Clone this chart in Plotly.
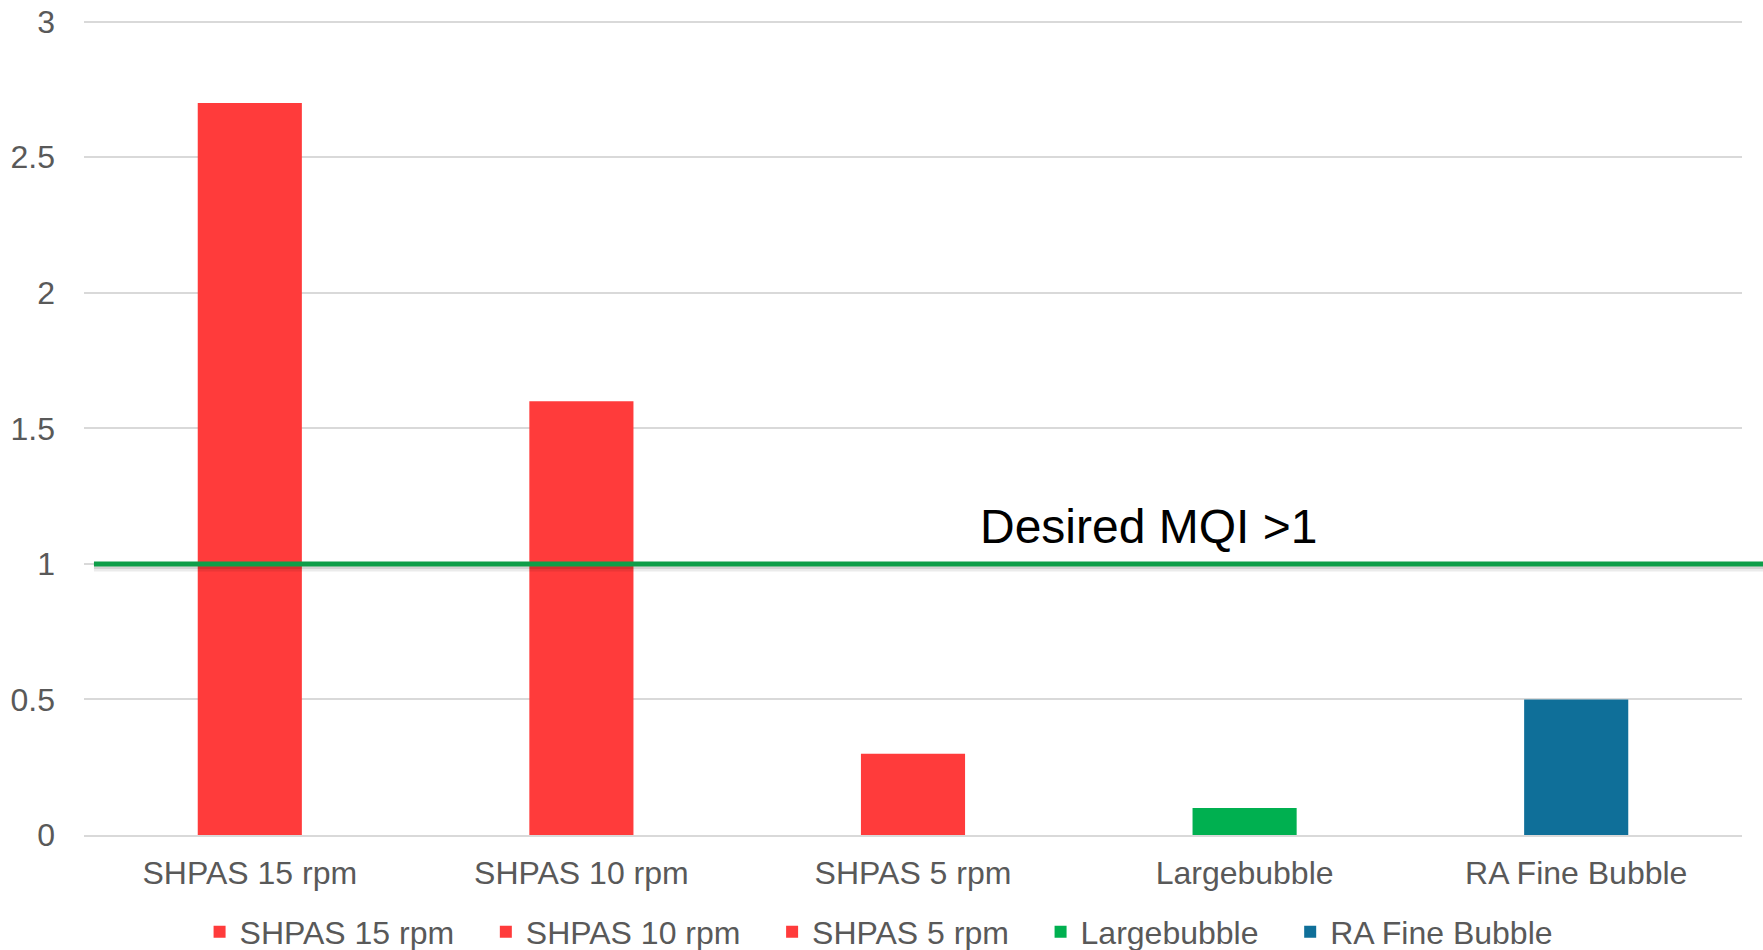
import plotly.graph_objects as go

# Category names, MQI values and bar colours
categories = ["SHPAS 15 rpm", "SHPAS 10 rpm", "SHPAS 5 rpm", "Largebubble", "RA Fine Bubble"]
mqi_values = [2.7, 1.6, 0.3, 0.1, 0.5]
bar_colors = ["#FF3B3B", "#FF3B3B", "#FF3B3B", "#00B050", "#0F6F99"]
y_ticks = [0, 0.5, 1, 1.5, 2, 2.5, 3]
threshold = 1
threshold_label = "Desired MQI >1"

FONT = "Arial, Liberation Sans, sans-serif"
TEXT_GREY = "#595959"
LEGEND_PAD = "\u00a0" * 3  # extra room after each legend entry

fig = go.Figure()
for name, val, col in zip(categories, mqi_values, bar_colors):
    fig.add_trace(go.Bar(
        x=[name], y=[val], name=name + LEGEND_PAD,
        marker=dict(color=col, line=dict(width=0)),
        width=0.314,
    ))

# soft shadow under the threshold line
fig.add_shape(type="line", xref="paper", yref="y", ysizemode="pixel",
              yanchor=threshold, y0=-2, y1=-2, x0=0.006, x1=1.02,
              line=dict(color="rgba(0,0,0,0.10)", width=6))
fig.add_shape(type="line", xref="paper", yref="y", ysizemode="pixel",
              yanchor=threshold, y0=-5, y1=-5, x0=0.006, x1=1.02,
              line=dict(color="rgba(0,0,0,0.08)", width=5))
# threshold line
fig.add_shape(type="line", xref="paper", yref="y",
              x0=0.006, x1=1.02, y0=threshold, y1=threshold,
              line=dict(color="#0E9E49", width=5))

fig.add_annotation(text=threshold_label, xref="paper", yref="y",
                   x=0.642, y=threshold, xanchor="center", yanchor="bottom",
                   yshift=9, showarrow=False,
                   font=dict(family=FONT, size=48, color="#000000"))

fig.update_layout(
    width=1763, height=950,
    margin=dict(l=84, r=21, t=20, b=115, autoexpand=False),
    paper_bgcolor="white", plot_bgcolor="white",
    barmode="overlay",
    font=dict(family=FONT, size=32, color=TEXT_GREY),
    showlegend=True,
    legend=dict(orientation="h", x=0.506, xanchor="center", xref="container",
                y=0.019, yanchor="middle", yref="container",
                font=dict(family=FONT, size=32, color=TEXT_GREY),
                itemwidth=30, traceorder="normal"),
)
fig.update_xaxes(type="category", categoryorder="array", categoryarray=categories,
                 showgrid=False, showline=True, linecolor="#D9D9D9", linewidth=2,
                 ticks="", tickfont=dict(family=FONT, size=32, color=TEXT_GREY),
                 ticklabelstandoff=9)
fig.update_yaxes(range=[0, 3.006], tickvals=y_ticks, ticktext=[f"{v:g}" for v in y_ticks],
                 showgrid=True, gridcolor="#D9D9D9", gridwidth=2,
                 zeroline=False, showline=False, ticks="",
                 tickfont=dict(family=FONT, size=32, color=TEXT_GREY),
                 ticklabelstandoff=28)

fig.write_html("out.html")
